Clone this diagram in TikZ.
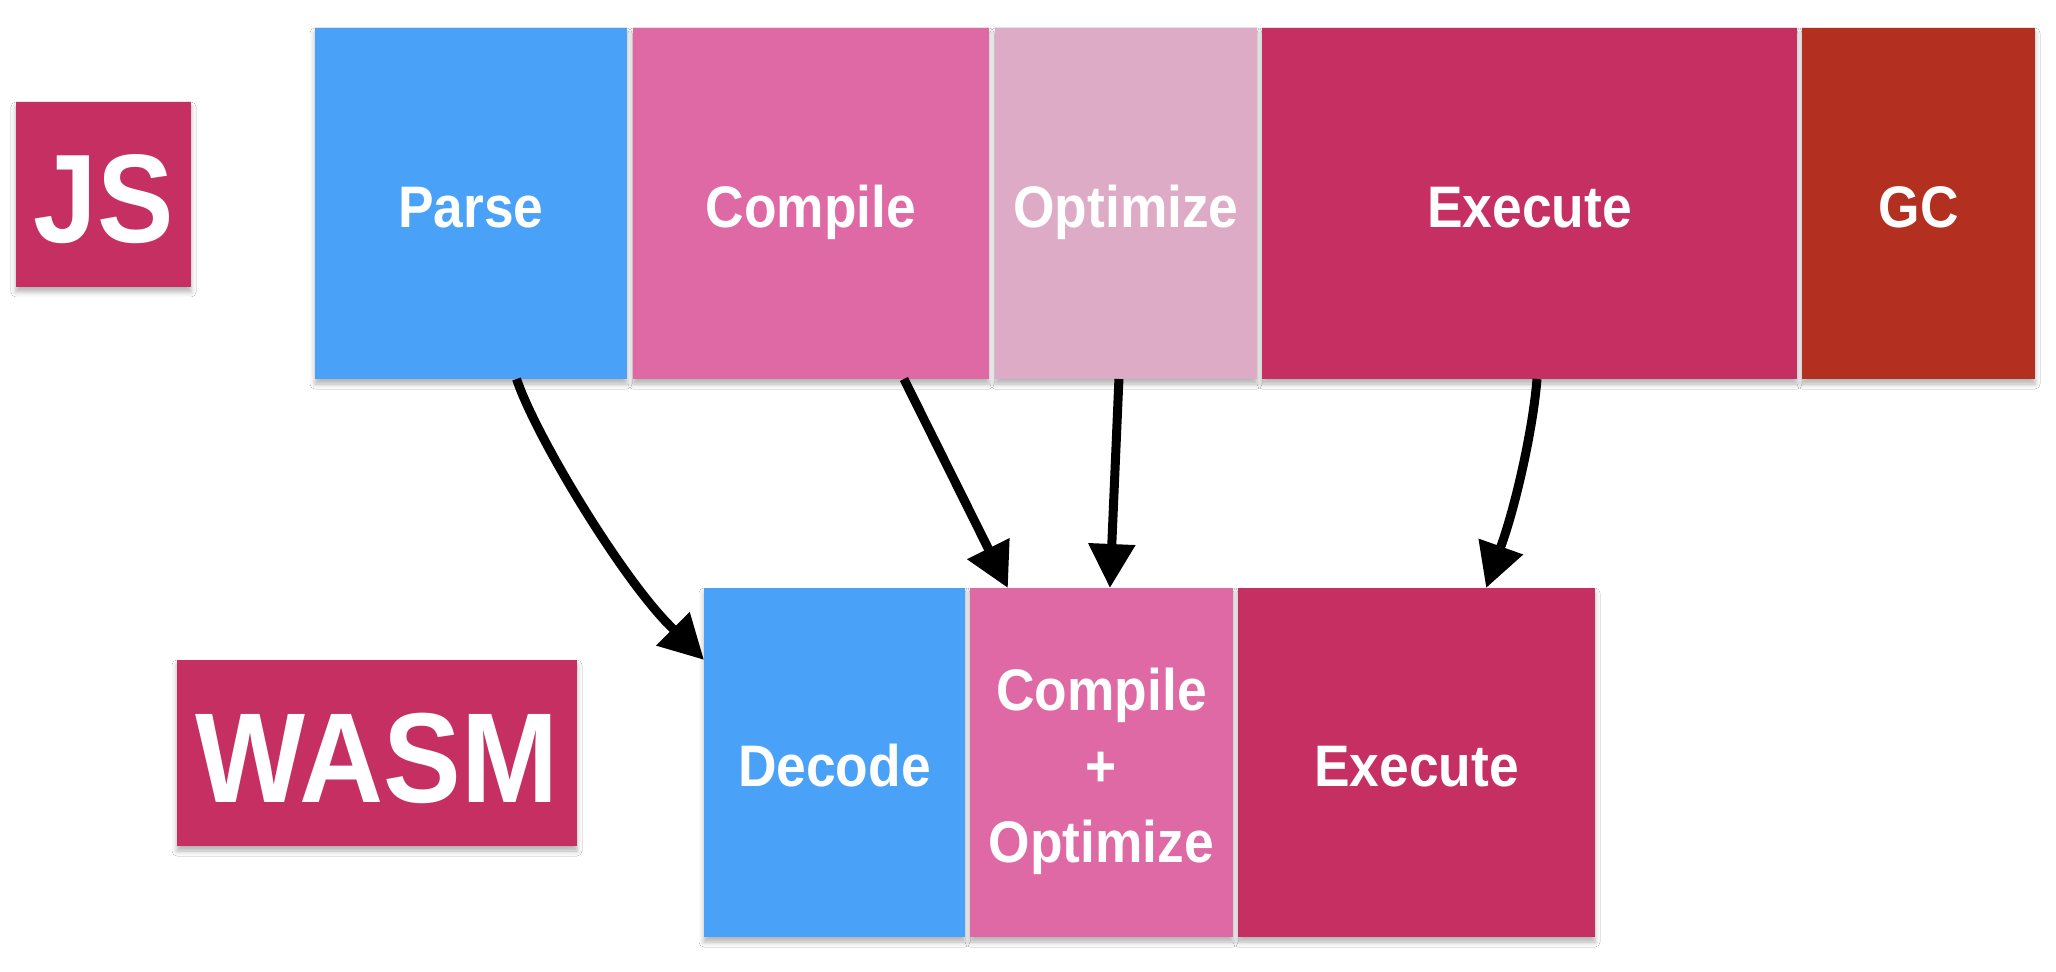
\documentclass[tikz,border=0pt]{standalone}
\usepackage{fontspec}
\setmainfont{Liberation Sans}[FakeStretch=0.91]
\usetikzlibrary{arrows.meta,calc,shadows.blur}
\definecolor{cblue}{HTML}{4AA1F8}
\definecolor{cpink}{HTML}{DF69A4}
\definecolor{clight}{HTML}{DEABC6}
\definecolor{ccrimson}{HTML}{C52F62}
\definecolor{cgc}{HTML}{B32F20}
\begin{document}
\begin{tikzpicture}[x=0.5pt,y=-0.5pt]
\useasboundingbox[fill=white] (0,0) rectangle (2056,972);
\tikzset{
  box/.style={rectangle, inner sep=0pt, outer sep=0pt, anchor=north west, text=white,
    font=\bfseries\fontsize{29.3}{38}\selectfont, text height=24.5pt, text depth=0pt,
    blur shadow={shadow xshift=0pt, shadow yshift=-2.5pt, shadow blur radius=2.5pt, shadow opacity=30}},
  lowbox/.style={box, minimum height=174.5pt, text height=23.5pt},
  bigbox/.style={box, text height=48.5pt, font=\bfseries\fontsize{63}{70}\selectfont},
  arr/.style={line width=4.5pt, line join=round, -{Triangle[length=22pt,width=22.5pt]}}
}
% JS row
\node[bigbox, fill=ccrimson, minimum width=87.5pt, minimum height=92.5pt] (js) at (16,102) {JS};
\node[box, fill=cblue, minimum width=156pt, minimum height=175.5pt] (parse) at (315,28) {Parse};
\node[box, fill=cpink, minimum width=178pt, minimum height=175.5pt] (compile) at (633,28) {Compile};
\node[box, fill=clight, minimum width=131pt, minimum height=175.5pt] (optimize) at (995,28) {Optimize};
\node[box, fill=ccrimson, minimum width=267.5pt, minimum height=175.5pt] (execute) at (1262,28) {Execute};
\node[box, fill=cgc, minimum width=116.5pt, minimum height=175.5pt] (gc) at (1802,28) {GC};
% WASM row
\node[bigbox, fill=ccrimson, minimum width=200pt, minimum height=93pt, text height=49.5pt, font=\bfseries\fontsize{64}{70}\selectfont] (wasm) at (177,660) {WASM};
\node[lowbox, fill=cblue, minimum width=130.5pt] (decode) at (704,588) {Decode};
\node[lowbox, fill=cpink, minimum width=131.5pt, align=center, text height=99.5pt] (compopt) at (970,588) {Compile\\+\\Optimize};
\node[lowbox, fill=ccrimson, minimum width=178.5pt] (wexec) at (1238,588) {Execute};
% arrow ends
\coordinate (ptip) at ($(decode.north west)!0.206!(decode.south west)$);
\coordinate (etip) at ($(wexec.north west)!0.695!(wexec.north east)$);
% arrows
\draw[arr] ($(parse.south west)!0.646!(parse.south east)$) .. controls +(19,57) and +(-49,-49) .. ($(ptip)+(-34,-34)$) -- (ptip);
\draw[arr] ($(compile.south west)!0.761!(compile.south east)$) -- ($(compopt.north west)!0.144!(compopt.north east)$);
\draw[arr] ($(optimize.south west)!0.473!(optimize.south east)$) -- ($(compopt.north west)!0.532!(compopt.north east)$);
\draw[arr] ($(execute.south west)!0.514!(execute.south east)$) .. controls +(-4,50) and +(14,-40) .. ($(etip)+(16,-45)$) -- (etip);
\end{tikzpicture}
\end{document}
